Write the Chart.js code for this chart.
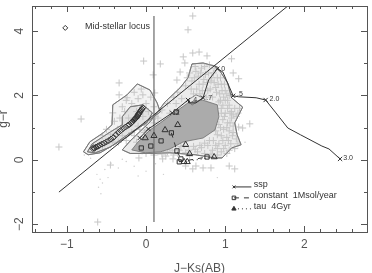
<!DOCTYPE html>
<html>
<head>
<meta charset="utf-8">
<title>g-r vs J-Ks</title>
<script src="https://cdn.jsdelivr.net/npm/chart.js@4"></script>
<style>
  html, body { margin: 0; padding: 0; background: #fff; }
  canvas { display: block; }
</style>
</head>
<body>
<canvas id="colorChart" width="372" height="273"></canvas>
<script>
// Axis range and tick labels
const xRange = [-1.44, 2.79];
const yRange = [-2.24, 4.78];
const xMajorTicks = [-1, 0, 1, 2];
const xMinorTicks = [-1.4, -1.2, -0.8, -0.6, -0.4, -0.2, 0.2, 0.4, 0.6, 0.8, 1.2, 1.4, 1.6, 1.8, 2.2, 2.4, 2.6];
const yMajorTicks = [-2, 0, 2, 4];
const yMinorTicks = [-1, 1, 3];

// Sparse galaxies away from the main cloud
const strayX = [-0.03, 0.18, 0.09, -0.34, -0.34, -0.82, -0.24, -0.04, 0.11, -0.42, 0.47, 0.49, 0.43, 0.39, 0.59, 0.53, 0.67, 0.59, 0.77, 1.08, 1.10, 1.17, -1.10, -0.45, -0.09, 0.21, 0.34, -0.61, 0.63, 0.72, 0.82, 1.05, 1.12, 0.59, 0.50, 1.31, 1.17, 1.22];
const strayY = [3.07, 2.98, 2.64, 2.39, 2.02, 1.27, 1.93, 2.02, 2.08, 1.46, 3.20, 3.01, 2.73, 2.48, 4.47, 4.04, 3.35, 3.32, 3.23, 3.14, 2.70, 2.52, 0.40, -0.16, 0.06, 0.03, 0.03, -1.93, -0.19, -0.25, -0.25, -0.19, -0.28, -0.28, -0.19, 1.12, 1.02, 0.99];

// Dense part of the sample: upper band, right band, lower band, diagonal edge, stellar side
const cloudX = [0.50, 0.55, 0.58, 0.62, 0.64, 0.66, 0.70, 0.72, 0.75, 0.78, 0.80, 0.82, 0.85, 0.88, 0.90, 0.93, 0.95, 0.98, 1.00, 1.03, 0.60, 0.68, 0.76, 0.84, 0.92,
  0.52, 0.57, 0.61, 0.63, 0.67, 0.69, 0.71, 0.73, 0.74, 0.77, 0.79, 0.81, 0.83, 0.86, 0.87, 0.89, 0.91, 0.94, 0.96, 0.99, 1.02, 1.05,
  0.95, 1.00, 1.05, 1.08, 1.12, 1.16, 0.97, 1.03, 1.08, 0.92, 0.98, 1.05, 1.10, 0.88, 0.95, 1.02, 1.09, 0.85, 0.92, 1.00, 1.07, 1.12, 0.78, 0.84, 0.95, 1.02,
  0.94, 0.97, 1.00, 1.03, 1.06, 1.10, 1.14, 1.18, 0.95, 0.99, 1.02, 1.06, 0.94, 0.90, 0.97, 1.04, 1.10, 1.14, 1.16, 0.88, 0.80, 0.74, 0.90, 0.98, 1.05, 0.90, 0.82,
  0.15, 0.22, 0.30, 0.37, 0.42, 0.48, 0.54, 0.60, 0.65, 0.70, 0.74, 0.55, 0.35, 0.25, 0.10, 0.05, -0.05, 0.68, 0.62, 0.50, 0.44, 0.40, 0.33, 0.27, 0.20, 0.00,
  0.00, 0.10, 0.15, 0.20, 0.27, 0.30, 0.35, 0.40, 0.45, 0.38, 0.07, 0.15, 0.25,
  -0.55, -0.50, -0.45, -0.40, -0.36, -0.33, -0.30, -0.27, -0.25, -0.22, -0.18, -0.15, -0.12, -0.10, -0.06, -0.04, 0.00, 0.03, 0.06, 0.10, 0.12, -0.02, -0.10, -0.18, -0.30, -0.42, -0.55, -0.65,
  -0.15, -0.08, -0.25, -0.02, -0.35, -0.12];
const cloudY = [2.30, 2.70, 2.45, 2.90, 2.20, 2.60, 2.85, 2.35, 2.65, 2.15, 2.95, 2.45, 2.70, 2.25, 2.55, 2.05, 2.35, 1.95, 2.15, 1.85, 2.05, 2.05, 1.95, 1.95, 1.80,
  2.55, 2.20, 2.55, 2.75, 2.35, 2.70, 2.15, 2.50, 2.90, 2.40, 2.70, 2.20, 2.55, 2.40, 2.85, 2.10, 2.35, 2.55, 2.15, 2.35, 2.05, 2.00,
  1.60, 1.45, 1.70, 1.50, 1.60, 1.45, 1.25, 1.15, 1.30, 1.10, 0.95, 0.90, 1.05, 0.90, 0.75, 0.70, 0.75, 0.60, 0.50, 0.45, 0.50, 0.35, 0.45, 0.30, 0.25, 0.20,
  1.85, 1.70, 1.85, 1.60, 1.45, 1.40, 1.35, 1.60, 1.45, 1.35, 1.00, 1.15, 1.00, 0.78, 0.60, 0.60, 0.85, 0.65, 0.50, 0.45, 0.60, 0.52, 0.35, 0.35, 0.30, 0.15, 0.18,
  0.25, 0.35, 0.40, 0.50, 0.30, 0.45, 0.30, 0.42, 0.25, 0.38, 0.20, 0.12, 0.15, 0.12, 0.15, 0.30, 0.28, 0.45, 0.33, 0.22, 0.42, 0.20, 0.30, 0.25, 0.18, 0.20,
  0.90, 1.15, 1.30, 1.55, 1.75, 1.45, 1.95, 2.10, 1.90, 1.75, 0.70, 0.95, 1.10,
  0.75, 0.95, 0.80, 1.20, 0.95, 1.30, 1.65, 1.50, 1.85, 1.30, 1.75, 2.10, 1.50, 1.90, 2.20, 1.35, 1.75, 1.50, 1.95, 1.65, 1.35, 1.10, 1.05, 0.85, 0.75, 0.55, 0.45, 0.35,
  0.75, 0.95, 0.60, 0.85, 0.55, 0.55];

// Faint single detections
const dustX = [-0.62, -0.58, -0.55, -0.60, -0.52, -0.48, -0.57, -0.44, -0.35, -0.25, -0.15, -0.70, -0.78, -0.30, 0.00, -0.10, 0.12, 0.22, 0.90, 1.25];
const dustY = [-0.45, -0.60, -0.72, -0.85, -0.30, -0.55, -1.05, -0.10, -0.25, -0.05, -0.20, 0.05, 0.15, 0.02, -0.35, -0.50, -0.12, -0.45, -0.55, 0.55];

// Density contours
const coreX = [-0.18, -0.11, 0.05, 0.18, 0.37, 0.53, 0.71, 0.90, 0.92, 0.87, 0.72, 0.47, 0.30, 0.18, -0.01, -0.18];
const coreY = [0.31, 0.53, 0.93, 1.15, 1.49, 1.77, 1.86, 1.71, 1.34, 0.93, 0.68, 0.56, 0.34, 0.25, 0.22, 0.31];
const outerX = [0.58, 0.72, 0.90, 1.03, 1.08, 1.22, 1.12, 1.15, 1.20, 1.08, 0.96, 0.87, 0.62, 0.30, 0.05, -0.20, -0.30, -0.20, 0.05, 0.24, 0.43, 0.53, 0.58];
const outerY = [2.98, 3.01, 2.89, 2.39, 1.93, 1.64, 1.15, 0.78, 0.47, 0.37, 0.06, 0.06, 0.16, 0.22, 0.20, 0.20, 0.31, 0.59, 1.18, 1.80, 2.24, 2.55, 2.98];
const stellarOuterX = [-0.79, -0.71, -0.54, -0.43, -0.42, -0.24, -0.11, 0.05, 0.14, 0.18, -0.04, -0.24, -0.58, -0.73, -0.79];
const stellarOuterY = [0.25, 0.56, 0.84, 1.09, 1.71, 2.02, 2.36, 2.17, 1.77, 1.49, 1.09, 0.71, 0.22, 0.16, 0.25];
const stellarInnerX = [-0.30, -0.20, -0.04, 0.08, 0.01, -0.20, -0.45, -0.64, -0.74, -0.68, -0.45, -0.30, -0.30];
const stellarInnerY = [1.34, 1.65, 1.71, 1.46, 1.15, 0.84, 0.40, 0.22, 0.25, 0.50, 0.87, 1.09, 1.34];
// Small loop around the .4 and .7 track points
const loopX = [0.53, 0.58, 0.72, 0.63, 0.53];
const loopY = [1.86, 1.70, 1.93, 2.02, 1.86];

// Mid-stellar locus
const locusX = [-0.67, -0.66, -0.65, -0.63, -0.61, -0.59, -0.56, -0.53, -0.50, -0.47, -0.44, -0.41, -0.38, -0.35, -0.32, -0.29, -0.26, -0.23, -0.21, -0.19, -0.18, -0.17, -0.16, -0.15, -0.14, -0.13, -0.125, -0.115, -0.11, -0.10, -0.095, -0.09, -0.08, -0.07, -0.06, -0.05, -0.04];
const locusY = [0.35, 0.38, 0.36, 0.40, 0.42, 0.45, 0.49, 0.52, 0.56, 0.60, 0.65, 0.70, 0.78, 0.85, 0.91, 0.97, 1.02, 1.07, 1.10, 1.14, 1.17, 1.19, 1.22, 1.25, 1.27, 1.29, 1.31, 1.34, 1.36, 1.40, 1.42, 1.44, 1.48, 1.52, 1.55, 1.58, 1.62];
const locusKeyX = [-1.02];
const locusKeyY = [4.10];

// Reference lines
const cutX = [0.10, 0.10];
const cutY = [4.47, -1.93];
const slopeX = [-1.10, 1.79];
const slopeY = [-1.00, 4.78];

// Model tracks
const sspX = [-0.08, 0.03, 0.33, 0.53, 0.54, 0.63, 0.72, 0.79, 0.90, 0.97, 1.03, 1.10, 1.17, 1.39, 1.51, 1.64, 1.79, 1.95, 2.22, 2.31, 2.45];
const sspY = [0.68, 0.96, 1.46, 1.86, 1.77, 1.77, 1.93, 2.48, 2.83, 2.73, 2.39, 1.99, 1.96, 1.93, 1.86, 1.46, 0.99, 0.78, 0.43, 0.34, 0.03];
const sspMarkX = [-0.08, 0.03, 0.33, 0.53, 0.72, 0.90, 1.10, 1.51, 2.45];
const sspMarkY = [0.68, 0.96, 1.46, 1.86, 1.93, 2.83, 1.99, 1.86, 0.03];
const sspAges = ['.2', '.4', '.7', '0', '.5', '2.0', '3.0'];
const sspAgeX = [0.35, 0.57, 0.76, 0.95, 1.15, 1.56, 2.49];
const sspAgeY = [1.46, 1.86, 1.93, 2.83, 2.05, 1.90, 0.05];

const constantX = [-0.06, 0.06, 0.19, 0.32, 0.39, 0.44, 0.42, 0.77];
const constantY = [0.37, 0.43, 0.59, 0.84, 0.28, 0.03, -0.06, 0.09];
const constantExtraX = [0.38];
const constantExtraY = [1.49];

const tauX = [-0.01, 0.10, 0.24, 0.40, 0.50, 0.55, 0.52, 0.48, 0.86];
const tauY = [0.68, 0.75, 0.93, 1.09, 0.47, 0.19, -0.06, -0.06, 0.09];

// Legend keys, placed in data units
const keyLineX = [1.11, 1.33];
const keyY = [-0.84, -1.18, -1.52];
const keyNames = ['ssp', 'constant  1Msol/year', 'tau  4Gyr'];
const keyTextX = 1.36;
const keyTextY = [-0.78, -1.12, -1.46];

function pairs(xs, ys) {
  return xs.map((x, i) => ({ x: x, y: ys[i] }));
}

const AXIS_COLOR = '#555';
const INK = '#333';
const CROSS = '#c6c6c6';

// Frame, inward ticks on all four sides and the text PGPLOT style plots carry
const framePlugin = {
  id: 'frame',
  afterDraw(chart) {
    const { ctx, chartArea: a, scales } = chart;
    const xs = scales.x;
    const ys = scales.y;
    ctx.save();
    ctx.strokeStyle = AXIS_COLOR;
    ctx.lineWidth = 1;
    ctx.strokeRect(a.left + 0.5, a.top + 0.5, a.right - a.left, a.bottom - a.top);

    const tickX = (v, len) => {
      const p = Math.round(xs.getPixelForValue(v)) + 0.5;
      ctx.beginPath();
      ctx.moveTo(p, a.bottom); ctx.lineTo(p, a.bottom - len);
      ctx.moveTo(p, a.top); ctx.lineTo(p, a.top + len);
      ctx.stroke();
    };
    const tickY = (v, len) => {
      const p = Math.round(ys.getPixelForValue(v)) + 0.5;
      ctx.beginPath();
      ctx.moveTo(a.left, p); ctx.lineTo(a.left + len, p);
      ctx.moveTo(a.right, p); ctx.lineTo(a.right - len, p);
      ctx.stroke();
    };
    xMajorTicks.forEach(v => tickX(v, 6));
    xMinorTicks.forEach(v => tickX(v, 3));
    yMajorTicks.forEach(v => tickY(v, 6));
    yMinorTicks.forEach(v => tickY(v, 3));

    // y tick labels run along the axis
    ctx.fillStyle = AXIS_COLOR;
    ctx.font = '12px "Liberation Sans"';
    ctx.textAlign = 'center';
    ctx.textBaseline = 'middle';
    yMajorTicks.forEach(v => {
      ctx.save();
      ctx.translate(20, ys.getPixelForValue(v));
      ctx.rotate(-Math.PI / 2);
      ctx.fillText(String(v).replace('-', '\u2212'), 0, 0);
      ctx.restore();
    });

    ctx.fillStyle = INK;
    ctx.textAlign = 'left';
    ctx.font = '9px "Liberation Sans"';
    ctx.fillText('Mid-stellar locus', xs.getPixelForValue(-0.77), ys.getPixelForValue(4.15));
    keyNames.forEach((name, i) => {
      ctx.fillText(name, xs.getPixelForValue(keyTextX), ys.getPixelForValue(keyTextY[i]));
    });
    ctx.font = '7px "Liberation Sans"';
    sspAges.forEach((age, i) => {
      ctx.fillText(age, xs.getPixelForValue(sspAgeX[i]), ys.getPixelForValue(sspAgeY[i]));
    });
    ctx.restore();
  }
};

function contour(xs, ys, fillColor, order) {
  return {
    data: pairs(xs, ys), showLine: true, pointRadius: 0, borderColor: '#777', borderWidth: 0.9,
    backgroundColor: fillColor, fill: fillColor === 'transparent' ? false : 'shape', order: order
  };
}

function line(xs, ys, color, dash, order, width) {
  return {
    data: pairs(xs, ys), showLine: true, pointRadius: 0, borderColor: color, borderWidth: width || 1,
    borderDash: dash, fill: false, order: order
  };
}

function marks(xs, ys, style, radius, order, fillColor) {
  return {
    data: pairs(xs, ys), showLine: false, pointStyle: style, pointRadius: radius, pointBorderWidth: 1,
    pointBorderColor: INK, pointBackgroundColor: fillColor || 'transparent', order: order
  };
}

new Chart(document.getElementById('colorChart'), {
  type: 'scatter',
  data: {
    datasets: [
      contour(outerX, outerY, '#ececec', 20),
      contour(stellarOuterX, stellarOuterY, '#f3f3f3', 19),
      contour(stellarInnerX, stellarInnerY, '#e2e2e2', 18),
      { data: pairs(dustX, dustY), pointStyle: 'circle', pointRadius: 0.7, pointBorderWidth: 0, pointBackgroundColor: '#ccc', order: 17 },
      { data: pairs(strayX, strayY), pointStyle: 'cross', pointRadius: 3.5, pointBorderWidth: 1, pointBorderColor: CROSS, order: 16 },
      { data: pairs(cloudX, cloudY), pointStyle: 'cross', pointRadius: 3.5, pointBorderWidth: 1, pointBorderColor: CROSS, order: 15 },
      contour(coreX, coreY, '#ababab', 14),
      contour(outerX, outerY, 'transparent', 13),
      contour(stellarOuterX, stellarOuterY, 'transparent', 12),
      contour(stellarInnerX, stellarInnerY, 'transparent', 11),
      contour(loopX, loopY, 'transparent', 11),
      line(cutX, cutY, '#777', [], 10, 1.3),
      line(slopeX, slopeY, INK, [], 9),
      line(sspX, sspY, INK, [], 8),
      line(constantX.slice(3), constantY.slice(3), INK, [5, 5], 7),
      line(tauX.slice(6), tauY.slice(6), INK, [1, 3], 6),
      marks(locusX, locusY, 'rectRot', 3, 5),
      marks(locusKeyX, locusKeyY, 'rectRot', 2.5, 5),
      marks(sspMarkX, sspMarkY, 'crossRot', 3, 4),
      marks(constantX, constantY, 'rect', 3, 3),
      marks(constantExtraX, constantExtraY, 'rect', 3, 3),
      marks(tauX, tauY, 'triangle', 3.5, 2),
      // legend keys
      line(keyLineX, [keyY[0], keyY[0]], INK, [], 1),
      line(keyLineX, [keyY[1], keyY[1]], INK, [5, 5], 1),
      line(keyLineX, [keyY[2], keyY[2]], INK, [1, 3], 1),
      marks(keyLineX.slice(0, 1), keyY.slice(0, 1), 'crossRot', 2, 1),
      marks(keyLineX.slice(0, 1), keyY.slice(1, 2), 'rect', 2.5, 1),
      marks(keyLineX.slice(0, 1), keyY.slice(2, 3), 'triangle', 2.5, 1, INK)
    ]
  },
  options: {
    responsive: false,
    animation: false,
    events: [],
    layout: { padding: { left: 0, top: 6, right: 4, bottom: 0 } },
    plugins: { legend: { display: false }, tooltip: { enabled: false } },
    scales: {
      x: {
        type: 'linear',
        min: xRange[0],
        max: xRange[1],
        afterFit(scale) { scale.height = 41; },
        grid: { display: false, drawTicks: false },
        border: { display: false },
        ticks: {
          stepSize: 1,
          includeBounds: false,
          maxRotation: 0,
          padding: 5,
          color: AXIS_COLOR,
          font: { family: 'Liberation Sans', size: 12 },
          callback: v => String(v).replace('-', '\u2212')
        },
        title: {
          display: true,
          text: 'J\u2212Ks(AB)',
          color: AXIS_COLOR,
          font: { family: 'Liberation Sans', size: 12 },
          padding: { top: 12, bottom: -3 }
        }
      },
      y: {
        type: 'linear',
        min: yRange[0],
        max: yRange[1],
        afterFit(scale) { scale.width = 32; },
        grid: { display: false, drawTicks: false },
        border: { display: false },
        ticks: { display: false, stepSize: 1, includeBounds: false },
        title: {
          display: true,
          text: 'g\u2212r',
          color: AXIS_COLOR,
          font: { family: 'Liberation Sans', size: 12 },
          padding: { top: -4, bottom: 0 }
        }
      }
    }
  },
  plugins: [framePlugin]
});
</script>
</body>
</html>
